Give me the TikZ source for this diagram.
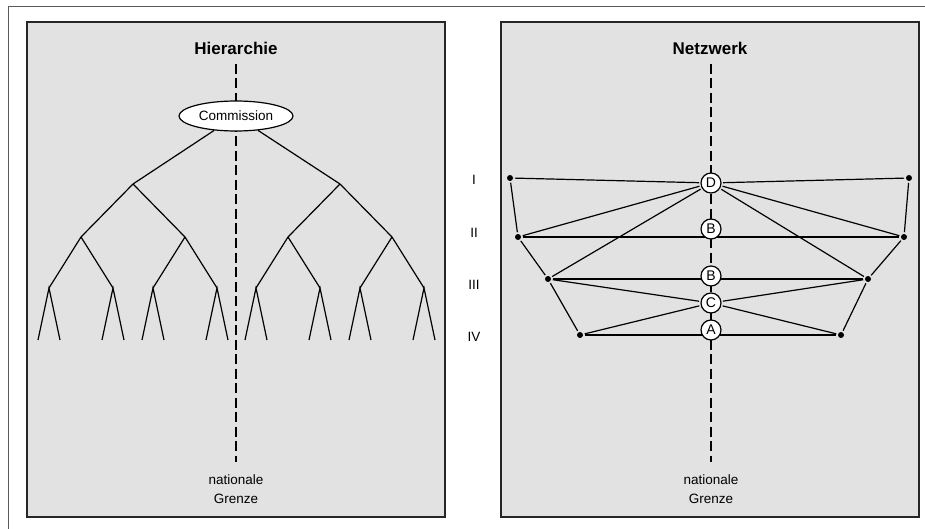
\documentclass[tikz,border=0pt]{standalone}
\usepackage{fontspec}
\setmainfont{Liberation Sans}
\usetikzlibrary{shapes.geometric,calc}
\definecolor{panelgray}{RGB}{225,226,225}
\definecolor{framegray}{RGB}{90,90,90}
\tikzset{
	panel/.style={draw=black!85, line width=1.5pt, fill=panelgray},
	grenze/.style={line width=2.5pt, dash pattern=on 10pt off 4.5pt},
	ast/.style={line width=1.2pt},
	titel/.style={font=\fontsize{17}{20}\selectfont\bfseries},
	label/.style={font=\fontsize{13.5}{19}\selectfont, align=center},
	dot/.style={circle, fill=black, inner sep=0pt, minimum size=6pt, outer sep=1.8pt},
	akteur/.style={circle, draw, line width=1.2pt, fill=white, inner sep=0pt, minimum size=20pt, outer sep=2pt, font=\fontsize{14}{14}\selectfont},
}
\begin{document}
\begin{tikzpicture}[x=1pt, y=-1pt]
	\useasboundingbox (0,0) rectangle (925,529);
	\draw [framegray, line width=1pt] (8,529) -- (8,7) -- (925,7);

	% Hierarchie
	\draw [panel] (27,22) rectangle (445,517);
	\node [titel] (hTitel) at (236,48) {Hierarchie};
	\coordinate (hOben) at (236,64);
	\coordinate (hUnten) at (236,462);
	\draw [grenze] (hOben) -- (hUnten);
	\node [label] (hGrenze) at (236,489) {nationale\\Grenze};
	\node [ellipse, draw, line width=1.2pt, fill=white, minimum width=114pt, minimum height=30pt, inner sep=0pt, label] (com) at (236,116) {Commission};
	\foreach \i in {1,2} {
		\coordinate (h\i) at ({236.5+(2*\i-3)*103.5},184);
		\draw [ast] (com) -- (h\i);
		\foreach \j in {1,2} {
			\coordinate (h\i\j) at ($(h\i)+({(2*\j-3)*52},53)$);
			\draw [ast] (h\i) -- (h\i\j);
			\foreach \k in {1,2} {
				\coordinate (h\i\j\k) at ($(h\i\j)+({(2*\k-3)*32},51)$);
				\draw [ast] (h\i\j) -- (h\i\j\k);
				\coordinate (b\i\j\k l) at ($(h\i\j\k)+(-11,52)$);
				\coordinate (b\i\j\k r) at ($(h\i\j\k)+(11,52)$);
				\draw [ast] (b\i\j\k l) -- (h\i\j\k) -- (b\i\j\k r);
			}
		}
	}

	% Netzwerk
	\draw [panel] (501,22) rectangle (919,517);
	\node [titel] (nTitel) at (710,48) {Netzwerk};
	\coordinate (nOben) at (711,64);
	\coordinate (nUnten) at (711,462);
	\draw [grenze] (nOben) -- (nUnten);
	\node [label] (nGrenze) at (711,489) {nationale\\Grenze};

	\node [label] (r1) at (474,180) {I};
	\node [label] (r2) at (474,233) {II};
	\node [label] (r3) at (474,285) {III};
	\node [label] (r4) at (474,337) {IV};

	\node [dot] (l1) at (510,178) {};
	\node [dot] (r1d) at (909,178) {};
	\node [dot] (l2) at (518,237) {};
	\node [dot] (r2d) at (904,237) {};
	\node [dot] (l3) at (548,279) {};
	\node [dot] (r3d) at (868,279) {};
	\node [dot] (l4) at (580,335) {};
	\node [dot] (r4d) at (841,335) {};

	% waagrechte Linien hinter den Kreisen
	\draw [ast] (l2) -- (r2d);
	\draw [ast] (l3) -- (r3d);
	\draw [ast] (l4) -- (r4d);

	\node [akteur] (nD) at (711,183) {D};
	\node [akteur] (nB1) at (711,229) {B};
	\node [akteur] (nB2) at (711,276) {B};
	\node [akteur] (nC) at (711,303) {C};
	\node [akteur] (nA) at (711,330) {A};

	\draw [ast] (l1) -- (nD) -- (r1d);
	\draw [ast] (l1) -- (l2) -- (l3) -- (l4);
	\draw [ast] (r1d) -- (r2d) -- (r3d) -- (r4d);
	\draw [ast] (l2) -- (nD) -- (r2d);
	\draw [ast] (l3) -- (nD) -- (r3d);
	\draw [ast] (l3) -- (nC) -- (r3d);
	\draw [ast] (l4) -- (nC) -- (r4d);
\end{tikzpicture}
\end{document}
